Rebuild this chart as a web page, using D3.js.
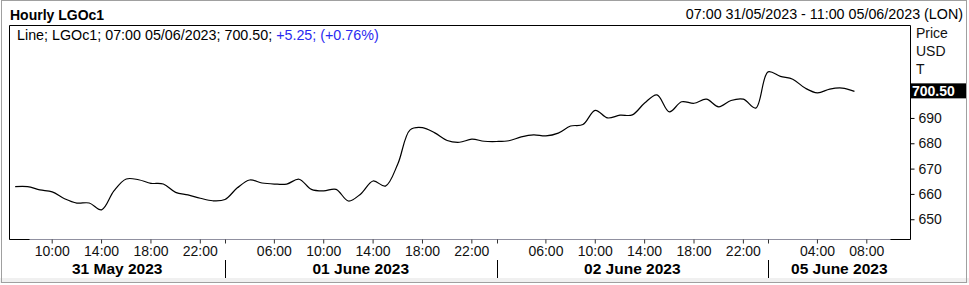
<!DOCTYPE html>
<html><head><meta charset="utf-8">
<script src="https://cdn.jsdelivr.net/npm/d3@7"></script>
<style>
body{margin:0;background:#fff;}
svg{display:block;font-family:"Liberation Sans",Arial,sans-serif;}
</style></head>
<body><svg id="c" width="969" height="285"></svg>
<script>
// ---- data ----
const dayLabels = ["31 May 2023", "01 June 2023", "02 June 2023", "05 June 2023"];
const dayKeys = ["31/05", "01/06", "02/06", "05/06"];
const dayHours = [
  ["07:00","08:00","09:00","10:00","11:00","12:00","13:00","14:00","15:00","16:00","17:00","18:00","19:00","20:00","21:00","22:00","23:00"],
  ["02:00","03:00","04:00","05:00","06:00","07:00","08:00","09:00","10:00","11:00","12:00","13:00","14:00","15:00","16:00","17:00","18:00","19:00","20:00","21:00","22:00","23:00"],
  ["02:00","03:00","04:00","05:00","06:00","07:00","08:00","09:00","10:00","11:00","12:00","13:00","14:00","15:00","16:00","17:00","18:00","19:00","20:00","21:00","22:00","23:00"],
  ["00:00","01:00","02:00","03:00","04:00","05:00","06:00","07:00","08:00","09:00","10:00","11:00"]
];
const prices = [
  662.9, 662.9, 661.6, 660.8, 658.1, 656.4, 656.4, 653.7, 661.2, 665.9, 665.6, 664.2, 663.9, 660.6, 659.6, 658.3, 657.3,
  657.8, 662.4, 665.5, 664.3, 663.9, 663.9, 665.8, 661.8, 661.2, 661.8, 657.2, 660.0, 665.1, 663.1, 671.8, 685.3, 686.2, 684.1, 681.1, 680.4, 681.6, 680.8,
  680.7, 681.0, 682.5, 683.3, 682.9, 684.0, 686.8, 687.4, 693.0, 690.0, 691.1, 691.2, 695.9, 699.1, 692.4, 696.4, 695.8, 697.4, 694.4, 696.9, 697.4, 693.9,
  708.2, 706.4, 705.3, 701.8, 699.9, 701.4, 701.8, 700.5
];
const xTickLabels = [
  "31/05 10:00","31/05 14:00","31/05 18:00","31/05 22:00",
  "01/06 06:00","01/06 10:00","01/06 14:00","01/06 18:00","01/06 22:00",
  "02/06 06:00","02/06 10:00","02/06 14:00","02/06 18:00","02/06 22:00",
  "05/06 04:00","05/06 08:00"
];
const yTicks = [650, 660, 670, 680, 690];
const lastValue = 700.50;
const title = "Hourly LGOc1";
const rangeText = "07:00 31/05/2023 - 11:00 05/06/2023 (LON)";
const legendBlack = "Line; LGOc1; 07:00 05/06/2023; 700.50; ";
const legendBlue = "+5.25; (+0.76%)";
const axisUnits = ["Price", "USD", "T"];

// ---- build ----
const categories = [];
dayKeys.forEach((d, i) => dayHours[i].forEach(h => categories.push(d + " " + h)));
const series = prices.map((v, i) => ({cat: categories[i], v}));

const svg = d3.select("#c");
const L = 9.5, R = 910.5, T = 25.5, B = 239.5;

const x = d3.scaleBand().domain(categories).range([L - 0.5, R - 0.5]);
const xc = c => x(c) + x.bandwidth() / 2;
const y = d3.scaleLinear().domain([642.2, 726.7]).range([B - 0.5, T - 0.5]);

// outer frame
svg.append("rect").attr("x", 0).attr("y", 278).attr("width", 969).attr("height", 5).attr("fill", "#f0f0f0");
svg.append("rect").attr("x", 1.5).attr("y", 0.5).attr("width", 965).attr("height", 282)
  .attr("fill", "none").attr("stroke", "#a0a0a0");

// header
svg.append("text").attr("x", 10).attr("y", 19.5).attr("font-weight", "bold").attr("font-size", 14)
  .attr("fill", "#000").text(title);
svg.append("text").attr("x", 963).attr("y", 18.5).attr("text-anchor", "end").attr("font-size", 14.3)
  .attr("fill", "#000").text(rangeText);

// plot frame
svg.append("line").attr("x1", L).attr("x2", R).attr("y1", B).attr("y2", B).attr("stroke", "#9090a0");
svg.append("path").attr("d", `M${L + 20},${B}H${L}V${T}H${R}V${B}H${R - 20}`)
  .attr("fill", "none").attr("stroke", "#000");

// line
svg.append("clipPath").attr("id", "pc").append("rect")
  .attr("x", L).attr("y", T).attr("width", R - L).attr("height", B - T);
svg.append("path").datum(series)
  .attr("clip-path", "url(#pc)")
  .attr("d", d3.line().x(d => xc(d.cat)).y(d => y(d.v)).curve(d3.curveCatmullRom.alpha(0.5)))
  .attr("fill", "none").attr("stroke", "#000").attr("stroke-width", 1.2);

// legend
const lg = svg.append("text").attr("x", 17).attr("y", 39.5).attr("font-size", 14.3);
lg.append("tspan").attr("fill", "#000").text(legendBlack);
lg.append("tspan").attr("fill", "#2a2af0").text(legendBlue);

// right axis
const ya = svg.append("g").attr("transform", `translate(${R},0)`)
  .call(d3.axisRight(y).tickValues(yTicks).tickSize(4).tickPadding(4).tickFormat(d3.format("d")));
ya.select(".domain").remove();
ya.selectAll("line").attr("stroke", "#000");
ya.selectAll("text").attr("font-size", 14).attr("font-family", "Liberation Sans, Arial, sans-serif").attr("fill", "#111");

axisUnits.forEach((t, i) => {
  svg.append("text").attr("x", 916).attr("y", 38 + i * 18).attr("font-size", 14).attr("fill", "#111").text(t);
});

// last value box
const ly = y(lastValue);
svg.append("rect").attr("x", 911).attr("y", ly - 8).attr("width", 55).attr("height", 15).attr("fill", "#000");
svg.append("text").attr("x", 912).attr("y", ly + 5).attr("font-size", 14).attr("font-weight", "bold")
  .attr("fill", "#fff").text(lastValue.toFixed(2));

// bottom axis: hour ticks
const xa = svg.append("g").attr("transform", `translate(0,${B})`)
  .call(d3.axisBottom(x).tickValues(xTickLabels).tickSize(4).tickPadding(3)
    .tickFormat(d => d.split(" ")[1]));
xa.select(".domain").remove();
xa.selectAll("line").attr("stroke", "#333");
xa.selectAll("text").attr("font-size", 14).attr("font-family", "Liberation Sans, Arial, sans-serif").attr("fill", "#111");

// day separators and labels
const firstCats = dayKeys.map((d, i) => d + " " + dayHours[i][0]);
firstCats.forEach((c, i) => {
  if (i === 0) return;
  const xx = Math.round(x(c) + x.bandwidth() / 2) + 0.5;
  svg.append("line").attr("x1", xx).attr("x2", xx).attr("y1", B).attr("y2", B + 4).attr("stroke", "#333");
  svg.append("line").attr("x1", xx).attr("x2", xx).attr("y1", 260).attr("y2", 278).attr("stroke", "#000");
});
dayLabels.forEach((lab, i) => {
  const start = i === 0 ? L : xc(firstCats[i]);
  const end = i === dayLabels.length - 1 ? R : xc(firstCats[i + 1]);
  svg.append("text").attr("x", (start + end) / 2).attr("y", 273.5).attr("text-anchor", "middle")
    .attr("font-size", 15.5).attr("font-weight", "bold").attr("fill", "#000").text(lab);
});
</script></body></html>
